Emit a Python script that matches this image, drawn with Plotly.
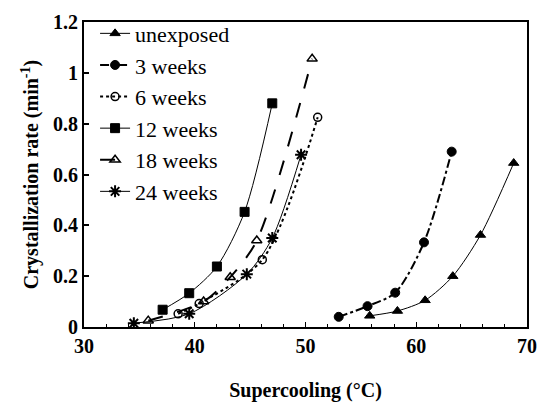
import plotly.graph_objects as go

# Supercooling (°C) and crystallization rate (min^-1) for each exposure time
unexposed_x = [55.8, 58.3, 60.8, 63.3, 65.8, 68.8]
unexposed_y = [0.044, 0.063, 0.105, 0.200, 0.362, 0.645]

w3_x = [53.0, 55.6, 58.1, 60.7, 63.2]
w3_y = [0.040, 0.082, 0.135, 0.333, 0.690]

w6_x = [38.5, 40.4, 46.1, 51.1]
w6_y = [0.052, 0.092, 0.265, 0.825]

w12_x = [37.1, 39.5, 42.0, 44.5, 47.0]
w12_y = [0.068, 0.133, 0.238, 0.453, 0.880]

w18_x = [35.8, 40.8, 43.2, 45.6, 50.6]
w18_y = [0.025, 0.100, 0.196, 0.340, 1.055]

w24_x = [34.5, 39.5, 44.7, 47.0, 49.6]
w24_y = [0.015, 0.052, 0.208, 0.350, 0.678]

series = [
    ("unexposed", unexposed_x, unexposed_y, "solid", 1, "triangle-up", 9, 1),
    ("3 weeks", w3_x, w3_y, "dashdot", 2, "circle", 9, 1),
    ("6 weeks", w6_x, w6_y, "dot", 2, "circle-open", 8, 1.5),
    ("12 weeks", w12_x, w12_y, "solid", 1, "square", 9, 1),
    ("18 weeks", w18_x, w18_y, "longdash", 2, "triangle-up-open", 9, 1.5),
    ("24 weeks", w24_x, w24_y, "solid", 1, "asterisk-open", 10, 2),
]

serif = "Liberation Serif, Times New Roman, serif"

fig = go.Figure()
for i, (name, xs, ys, dash, lw, sym, ms, mlw) in enumerate(series):
    fig.add_trace(go.Scatter(
        x=xs, y=ys, name=name, mode="lines+markers",
        legendgroup=f"g{i}",
        line=dict(color="black", width=lw, dash=dash, shape="spline", smoothing=0.8),
        marker=dict(symbol=sym, size=ms, color="black", line=dict(color="black", width=mlw)),
    ))

fig.update_layout(
    width=548, height=409,
    margin=dict(l=84, r=11, t=17, b=82),
    paper_bgcolor="white", plot_bgcolor="white",
    font=dict(family=serif, color="black"),
    showlegend=True,
    legend=dict(
        x=0.025, y=1.031, xanchor="left", yanchor="top",
        bgcolor="rgba(0,0,0,0)", borderwidth=0,
        font=dict(family=serif, size=22, color="black"),
        tracegroupgap=0, itemwidth=30,
    ),
    xaxis=dict(
        range=[30, 70], tickvals=[30, 40, 50, 60, 70],
        ticktext=["<b>30</b>", "<b>40</b>", "<b>50</b>", "<b>60</b>", "<b>70</b>"],
        ticks="inside", ticklen=5, tickwidth=1, tickcolor="black",
        minor=dict(dtick=2, ticks="inside", ticklen=3, tickcolor="black", tickwidth=1),
        showline=True, linewidth=2, linecolor="black", mirror=True,
        showgrid=False, zeroline=False,
        tickfont=dict(family=serif, size=20, color="black"),
        title=dict(text="<b>Supercooling (°C)</b>", font=dict(family=serif, size=20), standoff=27),
    ),
    yaxis=dict(
        range=[0, 1.2], tickvals=[0, 0.2, 0.4, 0.6, 0.8, 1.0, 1.2],
        ticktext=["<b>0</b>", "<b>0.2</b>", "<b>0.4</b>", "<b>0.6</b>", "<b>0.8</b>", "<b>1</b>", "<b>1.2</b>"],
        ticks="inside", ticklen=5, tickwidth=1.5, tickcolor="black",
        showline=True, linewidth=2, linecolor="black", mirror=True,
        showgrid=False, zeroline=False,
        tickfont=dict(family=serif, size=20, color="black"),
        title=dict(text="<b>Crystallization rate (min<sup>-1</sup>)</b>",
                   font=dict(family=serif, size=20), standoff=9),
    ),
)

fig.write_html("out.html")
